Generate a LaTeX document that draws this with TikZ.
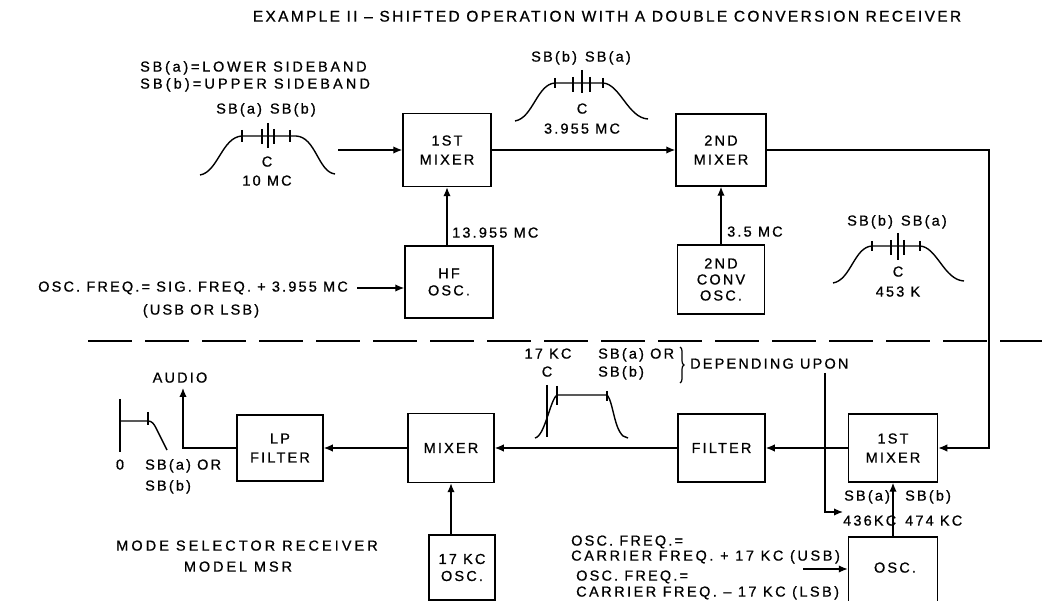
\documentclass[tikz,border=0pt]{standalone}
\usepackage{fontspec}
\setmainfont{Liberation Sans}[LetterSpace=15,FakeBold=0.8]
\usetikzlibrary{arrows.meta,decorations.pathreplacing}
\newcommand\lblfont{\fontsize{14.5}{16}\selectfont}
\newcommand\ttlfont{\fontsize{15.5}{17}\selectfont}
\newcommand\lsp[2]{{\addfontfeatures{LetterSpace=#1}#2}}
\begin{document}
\begin{tikzpicture}[x=1pt,y=-1pt,
  ln/.style={line width=1.4pt},
  arr/.style={line width=1.4pt,-{Latex[length=9pt,width=7.5pt]}},
  box/.style={draw,line width=1.5pt,inner sep=0pt,align=center,font=\lblfont},
  lbl/.style={inner sep=0pt,font=\lblfont,text height=0.72em,text depth=0pt,align=center},
  tk/.style={line width=1.3pt}]
\useasboundingbox (0,0) rectangle (1042,601);
\clip (0,0) rectangle (1042,601);

% title
\node[lbl,font=\ttlfont] (title) at (607,18) {EXAMPLE II -- SHIFTED OPERATION WITH A DOUBLE CONVERSION RECEIVER};

% upper boxes
\node[box,minimum width=88,minimum height=73] (m1) at (447,150) {1ST\\[3pt]MIXER};
\node[box,minimum width=90,minimum height=72] (m2) at (721,150) {2ND\\[3pt]MIXER};
\node[box,minimum width=88,minimum height=72] (hf) at (449,282) {HF\\[1pt]OSC.};
\node[box,minimum width=87,minimum height=69] (osc2) at (721,279.5) {2ND\\CONV\\OSC.};

% lower boxes
\node[box,minimum width=89,minimum height=68] (mx1) at (893,448) {1ST\\[3pt]MIXER};
\node[box,minimum width=87,minimum height=68] (filt) at (721.5,448) {FILTER};
\node[box,minimum width=86,minimum height=69] (mix) at (451,448) {MIXER};
\node[box,minimum width=86,minimum height=66] (lpf) at (280,448) {LP\\[3pt]FILTER};
\node[box,minimum width=66,minimum height=65] (osc17) at (462,567.5) {17 KC\\[1pt]OSC.};
\node[box,minimum width=89,minimum height=76] (osc) at (893,575) {};
\node[lbl] (osct) at (895,569) {OSC.};

% legend
\node[lbl,anchor=west] (leg1) at (140,68) {\lsp{19}{SB(a)=LOWER SIDEBAND}};
\node[lbl,anchor=west] (leg2) at (140,85) {\lsp{21.5}{SB(b)=UPPER SIDEBAND}};

% spectrum 1
\node[lbl] (s1l) at (266,110) {SB(a)\hspace{8pt}SB(b)};
\draw[ln] (200,175) .. controls (218,172) and (222,137) .. (242,136) -- (296,136) .. controls (316,137) and (318,172) .. (335,174);
\draw[tk] (242,130) -- (242,142) (262,129) -- (262,144) (268,123) -- (268,148) (274,129) -- (274,144) (290,130) -- (290,142);
\node[lbl] (s1c) at (267,163) {C};
\node[lbl] (s1f) at (267,182) {10 MC};
\coordinate (in1) at (338,150);
\draw[arr] (in1) -- (m1.west);

% spectrum 2
\node[lbl] (s2l) at (581,58) {SB(b)\hspace{8pt}SB(a)};
\draw[ln] (515,121) .. controls (533,118) and (537,84) .. (555,83) -- (603,83) .. controls (620,84) and (628,118) .. (648,119);
\draw[tk] (555,78) -- (555,88) (573,77) -- (573,92) (582,70) -- (582,93) (590,77) -- (590,92) (603,78) -- (603,88);
\node[lbl] (s2c) at (582,110) {C};
\node[lbl] (s2f) at (582,130) {3.955 MC};
\draw[arr] (m1.east) -- (m2.west);

% HF osc
\draw[arr] (hf.north -| m1.south) -- (m1.south);
\node[lbl,anchor=west] (f13) at (452,234) {13.955 MC};
\node[lbl,anchor=east] (oscf) at (348,288) {OSC. FREQ.= SIG. FREQ. + 3.955 MC};
\node[lbl] (usb) at (201,311) {(USB OR LSB)};
\coordinate (in2) at (357,288);
\draw[arr] (in2) -- (in2 -| hf.west);

% 2nd conv osc
\draw[arr] (osc2.north -| m2.south) -- (m2.south);
\node[lbl,anchor=west] (f35) at (727,233) {3.5 MC};

% spectrum 3
\node[lbl] (s3l) at (897,222) {SB(b)\hspace{8pt}SB(a)};
\draw[ln] (833,283) .. controls (851,280) and (854,247) .. (872,246) -- (920,246) .. controls (937,247) and (944,280) .. (964,281);
\draw[tk] (872,241) -- (872,251) (891,240) -- (891,255) (898,233) -- (898,260) (904,240) -- (904,255) (920,241) -- (920,251);
\node[lbl] (s3c) at (898,273) {C};
\node[lbl] (s3f) at (898,293) {453 K};

% IF path
\coordinate (c1) at (989,150);
\coordinate (c2) at (989,448);
\draw[arr] (m2.east) -- (c1) -- (c2) -- (mx1.east);

% dashed separator
\draw[line width=1.4pt,dash pattern=on 44pt off 13pt] (88,341) -- (1042,341);

% lower chain
\draw[arr] (mx1.west) -- (filt.east);
\draw[arr] (filt.west) -- (mix.east);
\draw[arr] (mix.west) -- (lpf.east);
\node[lbl] (audio) at (180,379) {AUDIO};
\coordinate (a1) at (183,448);
\coordinate (a2) at (183,388);
\draw[arr] (lpf.west) -- (a1) -- (a2);

% LP response
\draw[ln] (120,399) -- (120,452);
\draw[ln] (120,421) -- (148,421) .. controls (152,421) and (154,424) .. (156,428) -- (167,450);
\draw[tk] (148,412) -- (148,425);
\node[lbl] (zero) at (120,466) {0};
\node[lbl,anchor=west] (lp1) at (145,466) {SB(a) OR};
\node[lbl,anchor=west] (lp2) at (145,487) {SB(b)};

\node[lbl] (msr1) at (247,547) {\lsp{21}{MODE SELECTOR RECEIVER}};
\node[lbl] (msr2) at (238,568) {\lsp{20}{MODEL MSR}};

% 17 kc osc
\draw[arr] (osc17.north -| mix.south) -- (mix.south);

% spectrum 4
\node[lbl] (s4a) at (548,355) {17 KC};
\node[lbl] (s4c) at (547,373) {C};
\node[lbl,anchor=west] (s4b) at (598,355) {SB(a) OR};
\node[lbl,anchor=west] (s4d) at (598,373) {SB(b)};
\draw[ln] (547,385) -- (547,437);
\draw[ln] (535,438) .. controls (545,436) and (550,400) .. (557,395) -- (607,395) .. controls (614,402) and (614,437) .. (628,438);
\draw[tk] (557,386) -- (557,405) (607,391) -- (607,401);
\draw[line width=1.2pt,decorate,decoration={brace,amplitude=4pt}] (680,347) -- (680,383);
\node[lbl,anchor=west] (dep) at (690,365) {DEPENDING UPON};
\coordinate (d1) at (825,373);
\coordinate (d2) at (825,512);
\coordinate (d3) at (843,512);
\draw[arr] (d1) -- (d2) -- (d3);

% osc (lower right)
\draw[arr] (osc.north -| mx1.south) -- (mx1.south);
\node[lbl,anchor=west] (sba) at (844,497) {SB(a)};
\node[lbl,anchor=west] (sbb) at (905,497) {SB(b)};
\node[lbl,anchor=west] (f436) at (843,522) {436KC};
\node[lbl,anchor=west] (f474) at (905,522) {474 KC};
\node[lbl,anchor=west] (of1) at (571,542) {OSC. FREQ.=};
\node[lbl,anchor=west] (of2) at (571,557) {\lsp{18}{CARRIER FREQ. + 17 KC (USB)}};
\node[lbl,anchor=west] (of3) at (576,577) {OSC. FREQ.=};
\node[lbl,anchor=west] (of4) at (576,593) {\lsp{17}{CARRIER FREQ. -- 17 KC (LSB)}};
\coordinate (in3) at (803,569);
\draw[arr] (in3) -- (in3 -| osc.west);
\end{tikzpicture}
\end{document}
